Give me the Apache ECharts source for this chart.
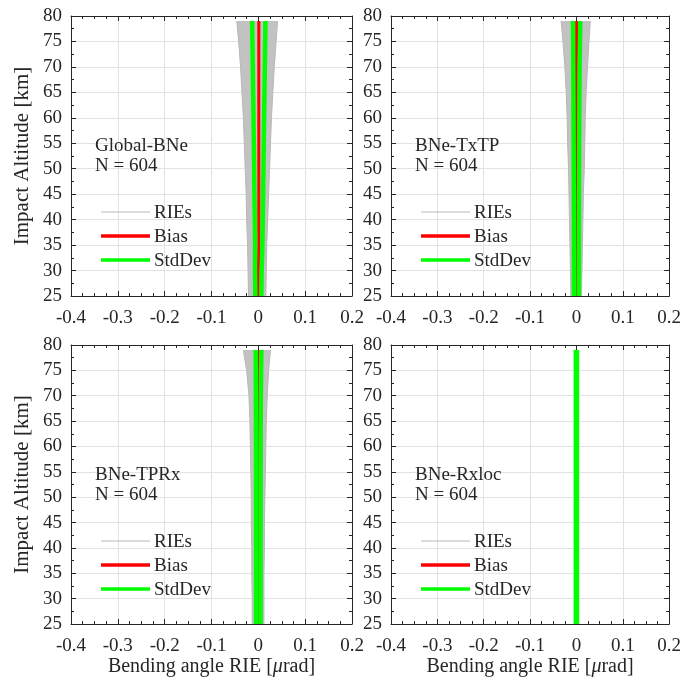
<!DOCTYPE html>
<html>
<head>
<meta charset="utf-8">
<script src="https://cdn.jsdelivr.net/npm/echarts@6/dist/echarts.min.js"></script>
<style>
html,body{margin:0;padding:0;background:#fff;}
#chart{width:684px;height:686px;}
</style>
</head>
<body>
<div id="chart"></div>
<script>
// ---- data ----
const altitudes = [25, 30, 35, 40, 45, 50, 55, 60, 65, 70, 75, 79];
const panelNames = ['Global-BNe', 'BNe-TxTP', 'BNe-TPRx', 'BNe-Rxloc'];
const panelCounts = ['N = 604', 'N = 604', 'N = 604', 'N = 604'];
const legendNames = ['RIEs', 'Bias', 'StdDev'];
const xTickMin = -0.4, xTickMax = 0.2, xTickStep = 0.1;
const yTickMin = 25, yTickMax = 80, yTickStep = 5;

// Global-BNe
const globalRieMin = [-0.021, -0.022, -0.023, -0.025, -0.026, -0.028, -0.030, -0.032, -0.035, -0.038, -0.042, -0.046];
const globalRieMax = [0.016, 0.017, 0.018, 0.020, 0.022, 0.024, 0.026, 0.028, 0.031, 0.034, 0.038, 0.041];
const globalBias   = [0.000, 0.000, 0.001, 0.001, 0.001, 0.001, 0.001, 0.001, 0.001, 0.001, 0.001, 0.001];
const globalStd    = [0.0064, 0.0071, 0.0078, 0.0085, 0.0092, 0.0099, 0.0106, 0.0113, 0.0121, 0.0128, 0.0136, 0.0142];
// BNe-TxTP
const txtpRieMin = [-0.012, -0.013, -0.014, -0.015, -0.016, -0.017, -0.019, -0.020, -0.022, -0.025, -0.029, -0.033];
const txtpRieMax = [0.011, 0.012, 0.013, 0.014, 0.015, 0.017, 0.018, 0.019, 0.021, 0.024, 0.027, 0.030];
const txtpBias   = [0.000, 0.000, 0.000, 0.000, 0.000, 0.000, 0.000, 0.000, 0.000, 0.000, 0.0003, 0.0005];
const txtpStd    = [0.0052, 0.0053, 0.0054, 0.0055, 0.0056, 0.0058, 0.0060, 0.0062, 0.0065, 0.0068, 0.0074, 0.0080];
// BNe-TPRx
const tprxRieMin = [-0.013, -0.013, -0.014, -0.014, -0.015, -0.015, -0.016, -0.017, -0.018, -0.020, -0.025, -0.032];
const tprxRieMax = [0.012, 0.012, 0.012, 0.013, 0.013, 0.014, 0.015, 0.016, 0.017, 0.019, 0.022, 0.026];
const tprxBias   = [0.000, 0.000, 0.000, 0.000, 0.000, 0.000, 0.000, 0.000, 0.000, 0.000, 0.0003, 0.0005];
const tprxStd    = [0.0048, 0.0048, 0.0048, 0.0048, 0.0049, 0.0049, 0.0049, 0.0050, 0.0051, 0.0053, 0.0056, 0.0060];
// BNe-Rxloc
const rxlocRieMin = [-0.0010, -0.0010, -0.0010, -0.0010, -0.0010, -0.0010, -0.0010, -0.0010, -0.0010, -0.0010, -0.0010, -0.0010];
const rxlocRieMax = [0.0010, 0.0010, 0.0010, 0.0010, 0.0010, 0.0010, 0.0010, 0.0010, 0.0010, 0.0010, 0.0010, 0.0010];
const rxlocBias   = [0, 0, 0, 0, 0, 0, 0, 0, 0, 0, 0, 0];
const rxlocStd    = [0.0012, 0.0012, 0.0012, 0.0012, 0.0012, 0.0012, 0.0012, 0.0012, 0.0012, 0.0012, 0.0012, 0.0012];

const panelData = [
  [globalRieMin, globalRieMax, globalBias, globalStd],
  [txtpRieMin, txtpRieMax, txtpBias, txtpStd],
  [tprxRieMin, tprxRieMax, tprxBias, tprxStd],
  [rxlocRieMin, rxlocRieMax, rxlocBias, rxlocStd]
];

// ---- styling / layout ----
const FONT = 'Liberation Serif';
const TXT = '#262626';
const GRAY = '#c2c2c2';
const RED = '#ff0000';
const GREEN = '#00ff00';
const grids = [
  {left: 71, top: 16, width: 281, height: 280},
  {left: 391, top: 16, width: 281, height: 280},
  {left: 71, top: 345, width: 281, height: 279},
  {left: 391, top: 345, width: 281, height: 279}
];

const chart = echarts.init(document.getElementById('chart'), null, {renderer: 'canvas'});

const xAxes = [], yAxes = [], series = [], graphics = [];
const tickStyle = {color: TXT, width: 1};
const tickRich = {t: {fontFamily: FONT, fontSize: 19, color: TXT}};

grids.forEach(function (g, gi) {
  const bottomRow = gi >= 2, leftCol = gi % 2 === 0;
  const common = {
    type: 'value', gridIndex: gi,
    axisLine: {show: true, onZero: false, lineStyle: {color: TXT, width: 1}},
    axisTick: {show: true, inside: true, length: 5, lineStyle: tickStyle}
  };
  xAxes.push(Object.assign({}, common, {
    position: 'bottom', min: xTickMin, max: xTickMax, interval: xTickStep,
    minorTick: {show: true, splitNumber: 4, length: 3, lineStyle: tickStyle},
    axisLabel: {show: true, color: TXT, fontFamily: FONT, fontSize: 19, margin: 13, rich: tickRich,
      formatter: function (v) { return '{t|' + String(Math.round(v * 10) / 10) + '}'; }},
    splitLine: {show: true, lineStyle: {color: '#e2e2e2', width: 1}},
    name: bottomRow ? 'Bending angle RIE [{i|μ}rad]' : '',
    nameLocation: 'middle', nameGap: 32,
    nameTextStyle: {color: TXT, fontFamily: FONT, fontSize: 20,
      rich: {i: {fontStyle: 'italic', fontFamily: FONT, fontSize: 20, color: TXT}}}
  }));
  xAxes.push(Object.assign({}, common, {
    position: 'top', min: xTickMin, max: xTickMax, interval: xTickStep,
    minorTick: {show: true, splitNumber: 4, length: 3, lineStyle: tickStyle},
    axisLabel: {show: false}, splitLine: {show: false}
  }));
  yAxes.push(Object.assign({}, common, {
    position: 'left', min: yTickMin, max: yTickMax, interval: yTickStep,
    minorTick: {show: true, splitNumber: 2, length: 3, lineStyle: tickStyle},
    axisLabel: {show: true, color: TXT, fontFamily: FONT, fontSize: 19, margin: 9, rich: tickRich,
      formatter: function (v) { return '{t|' + String(v) + '}'; }},
    splitLine: {show: true, lineStyle: {color: '#e2e2e2', width: 1}},
    name: leftCol ? 'Impact Altitude [km]' : '',
    nameLocation: 'middle', nameGap: 38,
    nameTextStyle: {color: TXT, fontFamily: FONT, fontSize: 21}
  }));
  yAxes.push(Object.assign({}, common, {
    position: 'right', min: yTickMin, max: yTickMax, interval: yTickStep,
    minorTick: {show: true, splitNumber: 2, length: 3, lineStyle: tickStyle},
    axisLabel: {show: false}, splitLine: {show: false}
  }));

  const d = panelData[gi];
  const rieMin = d[0], rieMax = d[1], bias = d[2], std = d[3];
  const ax = {xAxisIndex: gi * 2, yAxisIndex: gi * 2};

  // RIE envelope band
  series.push(Object.assign({
    type: 'custom', silent: true, clip: true,
    data: [[0, 50]],
    renderItem: function (params, api) {
      const pts = [];
      for (let i = 0; i < altitudes.length; i++) pts.push(api.coord([rieMin[i], altitudes[i]]));
      for (let i = altitudes.length - 1; i >= 0; i--) pts.push(api.coord([rieMax[i], altitudes[i]]));
      return {type: 'polygon', shape: {points: pts}, style: {fill: GRAY}};
    }
  }, ax));
  function line(vals, color, width) {
    return Object.assign({
      type: 'line', symbol: 'none', silent: true,
      data: altitudes.map(function (a, i) { return [vals[i], a]; }),
      lineStyle: {color: color, width: width, cap: 'butt'}
    }, ax);
  }
  series.push(line(rieMin, '#b8b8b8', 1));
  series.push(line(rieMax, '#b8b8b8', 1));
  series.push(line(bias, RED, 3));
  series.push(line(bias.map(function (b, i) { return b - std[i]; }), GREEN, 4.5));
  series.push(line(bias.map(function (b, i) { return b + std[i]; }), GREEN, 4.5));

  // panel annotation
  graphics.push({type: 'text', z: 100, x: g.left + 24, y: g.top + 130,
    style: {text: panelNames[gi], fontFamily: FONT, fontSize: 19, fill: TXT, verticalAlign: 'middle', align: 'left'}});
  graphics.push({type: 'text', z: 100, x: g.left + 24, y: g.top + 150,
    style: {text: panelCounts[gi], fontFamily: FONT, fontSize: 19, fill: TXT, verticalAlign: 'middle', align: 'left'}});
  // legend
  const legRows = [196, 220, 244];
  const legColors = ['#b8b8b8', RED, GREEN];
  const legWidths = [1, 3.5, 3.5];
  legRows.forEach(function (dy, k) {
    graphics.push({type: 'line', z: 100, shape: {x1: g.left + 30, y1: g.top + dy, x2: g.left + 79, y2: g.top + dy},
      style: {stroke: legColors[k], lineWidth: legWidths[k]}});
    graphics.push({type: 'text', z: 100, x: g.left + 83, y: g.top + dy + 1,
      style: {text: legendNames[k], fontFamily: FONT, fontSize: 19, fill: TXT, verticalAlign: 'middle', align: 'left'}});
  });
});

chart.setOption({
  animation: false,
  backgroundColor: '#ffffff',
  textStyle: {fontFamily: FONT, color: TXT},
  grid: grids.map(function (g) { return Object.assign({containLabel: false}, g); }),
  xAxis: xAxes,
  yAxis: yAxes,
  series: series,
  graphic: graphics
});
</script>
</body>
</html>
